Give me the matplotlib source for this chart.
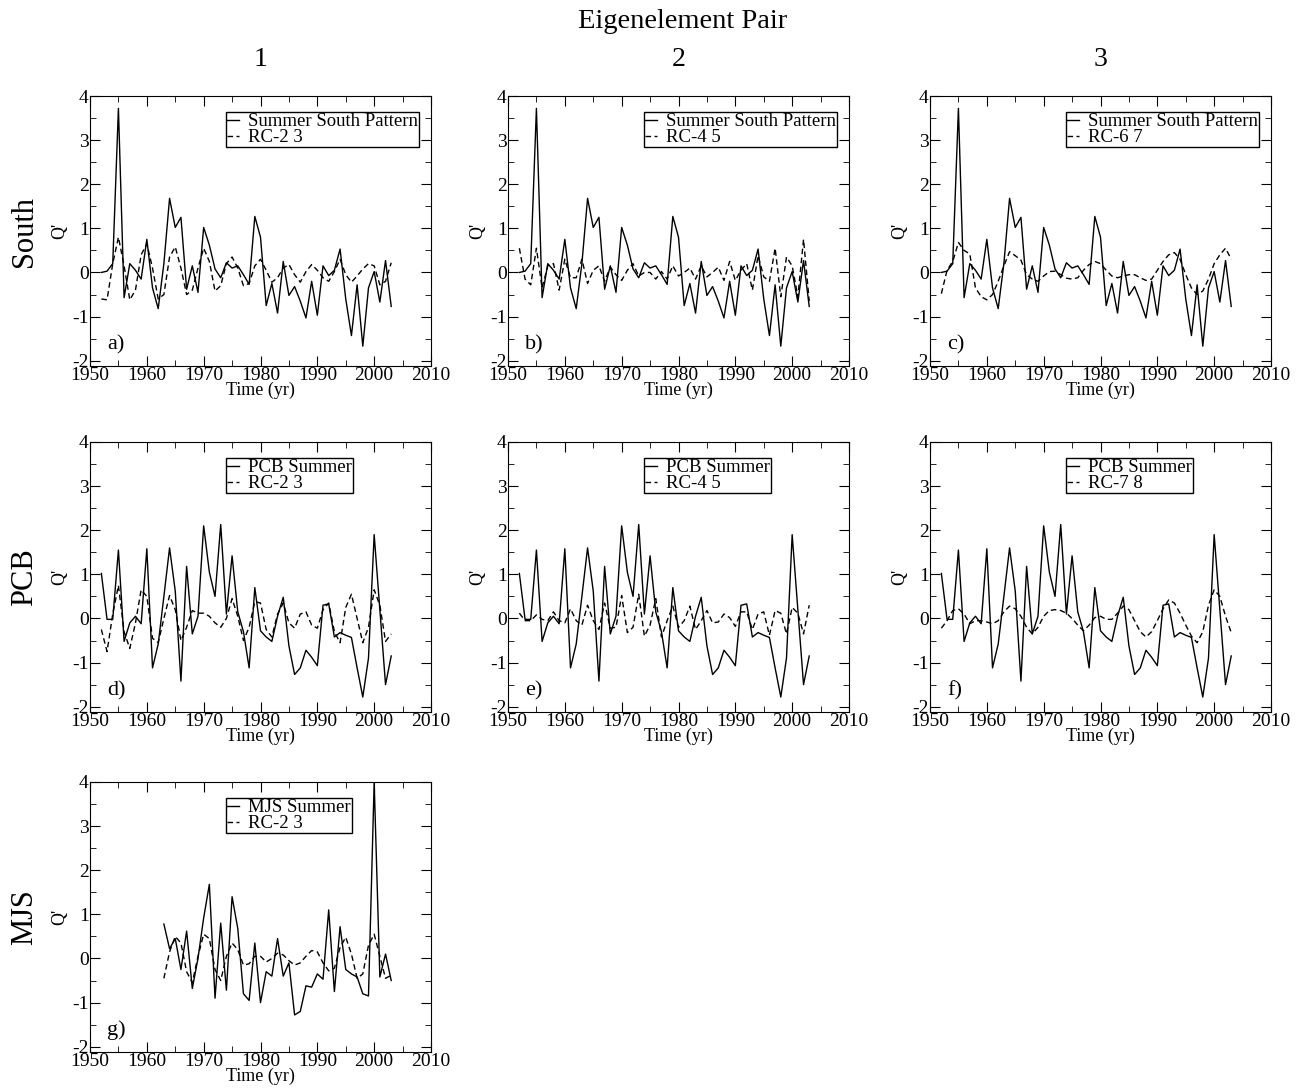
import numpy as np
import matplotlib
matplotlib.use('Agg')
import matplotlib.pyplot as plt
from matplotlib.ticker import MultipleLocator

plt.rcParams['font.family'] = ['Liberation Serif', 'DejaVu Serif']
plt.rcParams['axes.unicode_minus'] = False

# ---- data ----
years = list(range(1952, 2004))
years_mjs = list(range(1963, 2004))

south = [0.0, 0.03, 0.2, 3.72, -0.57, 0.2, 0.05, -0.15, 0.75, -0.35,
         -0.82, 0.2, 1.68, 1.02, 1.25, -0.38, 0.15, -0.45, 1.02, 0.62,
         0.08, -0.12, 0.22, 0.1, 0.15, -0.05, -0.27, 1.27, 0.8, -0.75,
         -0.25, -0.92, 0.25, -0.52, -0.32, -0.65, -1.03, -0.2, -0.97, 0.15,
         -0.07, 0.05, 0.53, -0.6, -1.43, -0.28, -1.67, -0.35, 0.02, -0.67,
         0.27, -0.77]

south_rc23 = [-0.6, -0.62, 0.2, 0.8, 0.15, -0.62, -0.4, 0.4, 0.65, 0.1,
              -0.6, -0.5, 0.35, 0.58, 0.1, -0.5, -0.4, 0.1, 0.55, 0.25,
              -0.42, -0.3, 0.2, 0.35, 0.1, -0.3, -0.25, 0.15, 0.3, 0.05,
              -0.22, -0.12, 0.1, 0.18, -0.05, -0.22, 0.02, 0.18, 0.05, -0.12,
              -0.2, 0.02, 0.3, -0.05, -0.22, -0.08, 0.08, 0.2, 0.15, -0.28,
              -0.2, 0.22]

south_rc45 = [0.55, -0.15, -0.28, 0.55, -0.35, 0.15, 0.2, -0.4, 0.3, -0.12,
              -0.12, 0.3, -0.25, 0.05, 0.15, -0.2, 0.12, -0.05, -0.18, 0.05,
              0.2, -0.08, 0.0, 0.0, -0.15, 0.02, -0.15, 0.15, -0.08, 0.0,
              0.1, -0.15, 0.15, -0.1, 0.0, 0.12, -0.18, 0.25, -0.18, 0.05,
              0.2, -0.4, 0.38, -0.1, -0.2, 0.55, -0.55, 0.35, 0.15, -0.55,
              0.75, -0.65]

south_rc67 = [-0.48, 0.05, 0.25, 0.68, 0.5, 0.42, -0.35, -0.55, -0.62, -0.5,
              -0.2, 0.15, 0.47, 0.38, 0.28, -0.05, -0.15, -0.2, -0.08, 0.02,
              0.03, -0.05, -0.13, -0.15, -0.12, 0.05, 0.18, 0.25, 0.2, 0.05,
              -0.08, -0.12, -0.08, -0.05, -0.05, -0.12, -0.18, -0.15, 0.05, 0.25,
              0.4, 0.45, 0.3, -0.05, -0.35, -0.5, -0.42, -0.15, 0.2, 0.4,
              0.55, 0.3]

pcb = [1.02, -0.02, -0.02, 1.55, -0.52, -0.1, 0.05, -0.12, 1.58, -1.12,
       -0.58, 0.5, 1.6, 0.62, -1.42, 1.18, -0.35, 0.05, 2.1, 1.05,
       0.5, 2.13, 0.1, 1.42, 0.15, -0.3, -1.12, 0.7, -0.28, -0.42,
       -0.52, 0.05, 0.48, -0.62, -1.27, -1.12, -0.72, -0.88, -1.07, 0.3,
       0.33, -0.42, -0.32, -0.38, -0.43, -1.12, -1.78, -0.9, 1.9, 0.2,
       -1.5, -0.85]

pcb_rc23 = [-0.25, -0.75, 0.1, 0.75, -0.3, -0.68, -0.1, 0.65, 0.5, -0.45,
            -0.55, 0.0, 0.52, 0.2, -0.5, -0.2, 0.18, 0.12, 0.12, 0.05,
            -0.1, -0.2, 0.0, 0.45, 0.05, -0.5, -0.2, 0.38, 0.35, -0.25,
            -0.42, 0.1, 0.35, -0.1, -0.22, 0.1, 0.15, -0.15, -0.22, 0.2,
            0.35, -0.3, -0.55, 0.25, 0.55, 0.0, -0.55, -0.2, 0.65, 0.3,
            -0.52, -0.35]

pcb_rc45 = [0.12, -0.05, -0.05, 0.08, -0.02, -0.05, 0.15, -0.05, -0.1, 0.22,
            -0.05, -0.15, 0.3, -0.05, -0.25, 0.35, -0.22, -0.2, 0.52, -0.32,
            -0.2, 0.55, -0.4, -0.15, 0.45, -0.42, -0.05, 0.28, -0.2, -0.05,
            0.28, -0.25, -0.05, 0.18, -0.1, -0.08, 0.1, 0.02, -0.18, 0.15,
            0.15, -0.25, 0.1, 0.15, -0.38, 0.18, 0.12, -0.35, 0.25, 0.12,
            -0.35, 0.3]

pcb_rc78 = [-0.22, -0.05, 0.18, 0.22, 0.1, -0.12, -0.05, -0.05, -0.08, -0.12,
            -0.05, 0.15, 0.28, 0.22, 0.05, -0.2, -0.35, -0.2, 0.05, 0.18,
            0.2, 0.18, 0.12, 0.0, -0.15, -0.28, -0.15, 0.02, 0.05, -0.02,
            -0.02, 0.12, 0.28, 0.2, -0.05, -0.3, -0.42, -0.3, -0.05, 0.22,
            0.42, 0.35, 0.12, -0.15, -0.4, -0.55, -0.3, 0.3, 0.65, 0.5,
            0.05, -0.32]

mjs = [0.78, 0.22, 0.45, -0.25, 0.62, -0.68, 0.0, 0.92, 1.68, -0.9,
       0.8, -0.72, 1.4, 0.68, -0.8, -0.95, 0.35, -1.0, -0.3, -0.4,
       0.45, -0.4, -0.1, -1.28, -1.2, -0.62, -0.65, -0.35, -0.47, 1.1,
       -0.75, 0.72, -0.25, -0.35, -0.42, -0.8, -0.85, 4.0, -0.42, 0.1,
       -0.5]

mjs_rc23 = [-0.45, 0.15, 0.5, 0.35, -0.3, -0.55, 0.05, 0.55, 0.45, -0.25,
            -0.5, 0.05, 0.35, 0.2, -0.15, -0.12, 0.05, 0.05, -0.08, 0.0,
            0.12, 0.08, -0.05, -0.15, -0.1, 0.05, 0.18, 0.15, -0.1, -0.28,
            -0.22, 0.25, 0.48, 0.1, -0.45, -0.35, 0.3, 0.55, 0.05, -0.45,
            -0.38]

row_names = ['South', 'PCB', 'MJS']
col_names = ['1', '2', '3']

panels = [
    # row, col, letter, x, solid, solid label, dashed, dashed label
    (0, 0, 'a)', years, south, 'Summer South Pattern', south_rc23, 'RC-2 3'),
    (0, 1, 'b)', years, south, 'Summer South Pattern', south_rc45, 'RC-4 5'),
    (0, 2, 'c)', years, south, 'Summer South Pattern', south_rc67, 'RC-6 7'),
    (1, 0, 'd)', years, pcb, 'PCB Summer', pcb_rc23, 'RC-2 3'),
    (1, 1, 'e)', years, pcb, 'PCB Summer', pcb_rc45, 'RC-4 5'),
    (1, 2, 'f)', years, pcb, 'PCB Summer', pcb_rc78, 'RC-7 8'),
    (2, 0, 'g)', years_mjs, mjs, 'MJS Summer', mjs_rc23, 'RC-2 3'),
]

# ---- layout (pixels) ----
W, H = 1297, 1091
lefts = [90, 508, 930]
bottoms = [366, 712, 1052]
aw, ah = 341, 270

fig = plt.figure(figsize=(W / 100, H / 100), dpi=100)

for row, col, letter, x, s, slab, d, dlab in panels:
    ax = fig.add_axes([lefts[col] / W, 1 - bottoms[row] / H, aw / W, ah / H])
    ax.plot(x, s, color='black', lw=1.0, label=slab)
    ax.plot(x, d, color='black', lw=1.0, dashes=(4, 2.5), label=dlab)
    ax.set_xlim(1950, 2010)
    ax.set_ylim(-2.12, 4.0)
    ax.xaxis.set_major_locator(MultipleLocator(10))
    ax.xaxis.set_minor_locator(MultipleLocator(5))
    ax.yaxis.set_major_locator(MultipleLocator(1))
    ax.yaxis.set_minor_locator(MultipleLocator(0.5))
    ax.tick_params(which='both', direction='in', top=True, right=True,
                   labelsize=14, pad=1)
    ax.tick_params(which='major', length=7)
    ax.tick_params(which='minor', length=4)
    ax.set_xlabel('Time (yr)', fontsize=13, labelpad=-2)
    ax.set_ylabel("Q'", fontsize=13)
    ax.yaxis.set_label_coords(-0.065, 0.5)
    ax.text(0.05, 0.08, letter, transform=ax.transAxes, fontsize=16,
            va='center', ha='left')
    leg = ax.legend(loc='upper left', bbox_to_anchor=(0.4, 0.94),
                    fontsize=13.5, handlelength=0.6, handletextpad=0.5,
                    labelspacing=-0.05, borderpad=0.05, borderaxespad=0,
                    fancybox=False, framealpha=1, edgecolor='black')
    leg.get_frame().set_linewidth(1.0)

for i, name in enumerate(row_names):
    yc = 1 - (bottoms[i] - ah / 2) / H
    fig.text(25 / W, yc, name, rotation=90, fontsize=22,
             ha='center', va='center')

for j, name in enumerate(col_names):
    fig.text((lefts[j] + aw / 2) / W, 1 - 60 / H, name, fontsize=20,
             ha='center', va='center')

fig.text(683 / W, 1 - 22 / H, 'Eigenelement Pair', fontsize=20.5,
         ha='center', va='center')

plt.savefig('out.png', dpi=100)
